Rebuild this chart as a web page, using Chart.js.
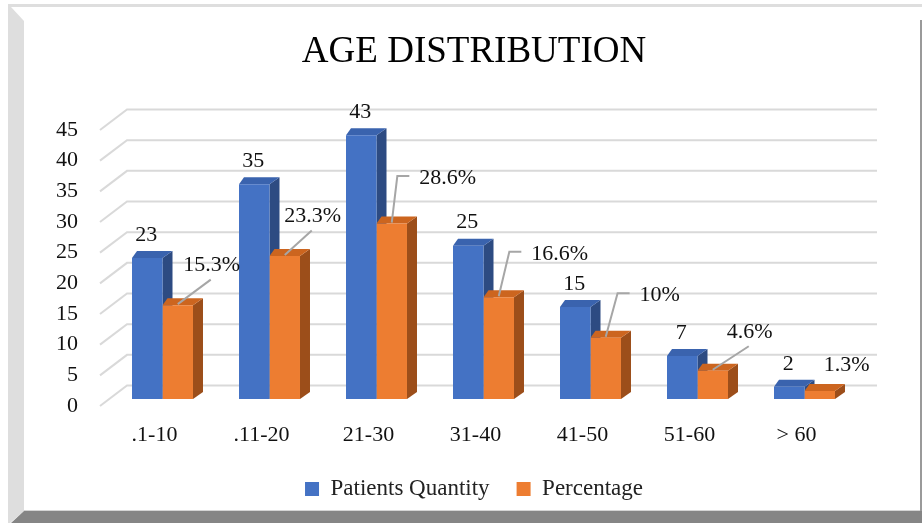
<!DOCTYPE html>
<html>
<head>
<meta charset="utf-8">
<script src="https://cdn.jsdelivr.net/npm/chart.js@4.4.0/dist/chart.umd.min.js"></script>
<style>
  html, body { margin: 0; padding: 0; background: #fff; }
  canvas { display: block; }
</style>
</head>
<body>
<canvas id="ageChart" width="922" height="523"></canvas>
<script>
  const categories = [".1-10", ".11-20", "21-30", "31-40", "41-50", "51-60", "> 60"];
  const patients = [23, 35, 43, 25, 15, 7, 2];
  const percentage = [15.3, 23.3, 28.6, 16.6, 10, 4.6, 1.3];
  const yTicks = [0, 5, 10, 15, 20, 25, 30, 35, 40, 45];

  // where excel put the percentage labels (text centre relative to bar top)
  const pctLabelPos = [
    { dx: 34, dy: -40, leader: "diag" },
    { dx: 28, dy: -40, leader: "diag" },
    { dx: 56, dy: -45, leader: "elbow" },
    { dx: 61, dy: -43, leader: "elbow" },
    { dx: 54, dy: -42, leader: "elbow" },
    { dx: 37, dy: -39, leader: "diag" },
    { dx: 27, dy: -26, leader: null },
  ];

  const serif = "'Liberation Serif', 'Times New Roman', serif";
  const depthX = 10;
  const depthY = 7;

  const framePlugin = {
    id: "frame",
    beforeDraw(chart) {
      const c = chart.ctx;
      c.save();
      c.fillStyle = "#fff";
      c.fillRect(0, 0, 922, 523);
      c.fillStyle = "#dedede";
      c.fillRect(8, 4, 914, 3);
      c.beginPath();
      c.moveTo(8, 7);
      c.lineTo(11, 7);
      c.lineTo(24, 21);
      c.lineTo(24, 511);
      c.lineTo(10, 523);
      c.lineTo(8, 523);
      c.closePath();
      c.fill();
      c.fillStyle = "#9a9a9a";
      c.fillRect(920, 20, 2, 491);
      c.fillStyle = "#d4d4d4";
      c.fillRect(24, 510, 896, 1);
      c.fillStyle = "#858585";
      c.beginPath();
      c.moveTo(24, 511);
      c.lineTo(922, 511);
      c.lineTo(922, 523);
      c.lineTo(11, 523);
      c.closePath();
      c.fill();
      c.restore();
    },
  };

  function drawFaces(c, bar, topColor, sideColor) {
    const x0 = bar.x - bar.width / 2;
    const x1 = bar.x + bar.width / 2;
    const top = bar.y;
    const base = bar.base;
    c.fillStyle = sideColor;
    c.beginPath();
    c.moveTo(x1, top);
    c.lineTo(x1 + depthX, top - depthY);
    c.lineTo(x1 + depthX, base - depthY);
    c.lineTo(x1, base);
    c.closePath();
    c.fill();
    c.fillStyle = topColor;
    c.beginPath();
    c.moveTo(x0, top);
    c.lineTo(x0 + 5, top - depthY);
    c.lineTo(x1 + depthX, top - depthY);
    c.lineTo(x1, top);
    c.closePath();
    c.fill();
  }

  const threeDPlugin = {
    id: "threeD",
    beforeDatasetsDraw(chart) {
      const c = chart.ctx;
      const area = chart.chartArea;
      const yScale = chart.scales.y;
      c.save();
      c.strokeStyle = "#d9d9d9";
      c.lineWidth = 2;
      yTicks.forEach((v) => {
        const py = yScale.getPixelForValue(v);
        c.beginPath();
        c.moveTo(area.left - 9, py + 7);
        c.lineTo(area.left + 18, py - 13.5);
        c.lineTo(area.right + 19, py - 13.5);
        c.stroke();
      });
      const faces = [
        ["#3a63ae", "#2d4b82"],
        ["#cc651f", "#9c4e1a"],
      ];
      [0, 1].forEach((d) => {
        chart.getDatasetMeta(d).data.forEach((el) => {
          const bar = el.getProps(["x", "y", "base", "width"], true);
          drawFaces(c, bar, faces[d][0], faces[d][1]);
        });
      });
      c.restore();
    },
    afterDatasetsDraw(chart) {
      const c = chart.ctx;
      c.save();
      c.font = "22px " + serif;
      c.fillStyle = "#111";
      c.textAlign = "center";
      c.textBaseline = "middle";

      chart.getDatasetMeta(0).data.forEach((el, i) => {
        const bar = el.getProps(["x", "y"], true);
        c.fillText(String(patients[i]), bar.x - 1, bar.y - 23);
      });

      c.strokeStyle = "#a6a6a6";
      c.lineWidth = 2;
      chart.getDatasetMeta(1).data.forEach((el, i) => {
        const bar = el.getProps(["x", "y"], true);
        const pos = pctLabelPos[i];
        const text = percentage[i] + "%";
        const tx = bar.x + pos.dx;
        const ty = bar.y + pos.dy;
        const left = tx - c.measureText(text).width / 2;
        if (pos.leader === "diag") {
          c.beginPath();
          c.moveTo(bar.x, bar.y - 1);
          c.lineTo(tx - 1, ty + 14.5);
          c.stroke();
        } else if (pos.leader === "elbow") {
          c.beginPath();
          c.moveTo(bar.x, bar.y - 1);
          c.lineTo(left - 22, ty - 2.5);
          c.lineTo(left - 10, ty - 2.5);
          c.stroke();
        }
        c.fillText(text, tx, ty);
      });
      c.restore();
    },
  };

  const ctx = document.getElementById("ageChart");

  var ageChart = new Chart(ctx, {
    type: "bar",
    data: {
      labels: categories,
      datasets: [
        {
          label: "Patients Quantity",
          data: patients,
          backgroundColor: "#4472c4",
          borderWidth: 0,
          categoryPercentage: 0.57,
          barPercentage: 1,
        },
        {
          label: "Percentage",
          data: percentage,
          backgroundColor: "#ed7d31",
          borderWidth: 0,
          categoryPercentage: 0.57,
          barPercentage: 1,
        },
      ],
    },
    options: {
      responsive: false,
      animation: false,
      layout: {
        padding: { top: 0, left: 90, right: 64, bottom: 12.5 },
      },
      plugins: {
        title: {
          display: true,
          text: "AGE DISTRIBUTION",
          color: "#000",
          font: { family: serif, size: 37, weight: "normal" },
          padding: { top: 30, bottom: 48.6 },
        },
        legend: {
          position: "bottom",
          labels: {
            color: "#222",
            font: { family: serif, size: 23 },
            boxWidth: 14,
            boxHeight: 14,
            padding: 27,
          },
        },
        tooltip: { enabled: false },
      },
      scales: {
        x: {
          grid: { display: false, drawTicks: false },
          border: { display: false },
          ticks: {
            color: "#111",
            font: { family: serif, size: 22 },
            padding: 23,
            labelOffset: -8,
          },
          afterFit: (scale) => {
            scale.height = 51.5;
          },
        },
        y: {
          min: 0,
          max: 45,
          grid: { display: false, drawTicks: false },
          border: { display: false },
          ticks: {
            stepSize: 5,
            color: "#111",
            font: { family: serif, size: 22 },
            // mirrored so the labels are not clipped to the narrow axis box
            mirror: true,
            crossAlign: "far",
            padding: -53,
            labelOffset: 7,
          },
          afterBuildTicks: (scale) => {
            scale.ticks = yTicks.map((v) => ({ value: v }));
          },
          afterFit: (scale) => {
            scale.width = 19;
          },
        },
      },
    },
    plugins: [framePlugin, threeDPlugin],
  });
</script>
</body>
</html>
